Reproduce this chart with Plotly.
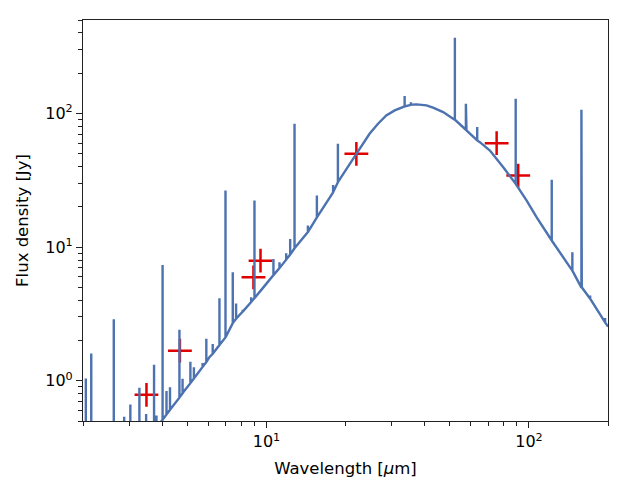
import numpy as np
import plotly.graph_objects as go

# continuum (model curve): wavelength [um], flux [Jy]
cont_wl = [2.0, 3.96, 4.86, 6.06, 7.44, 8.61, 10.0, 12.79, 15.56, 17.94, 18.71,
           22.0, 24.7, 26.6, 28.6, 30.8, 33.6, 37.3, 40.7, 43.1, 47.1, 51.4,
           57.8, 65.0, 71.0, 79.8, 89.0, 98.0, 107.0, 122.1, 143.4, 158.9, 200.0]
cont_flux = [0.08, 0.493, 0.84, 1.50, 2.70, 3.75, 5.33, 9.8, 16.7, 25.7, 30.6,
             49.9, 70.5, 83.7, 96.6, 105.3, 112.8, 116.8, 114.8, 110.3, 102.3, 91.3,
             74.6, 61.0, 52.8, 39.6, 29.7, 22.3, 16.7, 11.2, 7.06, 5.0, 2.54]

# emission lines: wavelength, flux at the foot, flux at the tip
line_wl = [2.05, 2.15, 2.62, 2.87, 3.03, 3.28, 3.48, 3.73, 3.81, 4.02, 4.16, 4.29,
           4.66, 4.79, 5.13, 5.29, 5.71, 5.90, 6.24, 6.62, 6.98, 7.44, 7.66, 8.12,
           8.74, 9.00, 10.63, 11.21, 11.89, 12.31, 12.79, 14.38, 15.56, 17.94, 18.71,
           33.6, 35.5, 52.2, 57.5, 63.5, 89.0, 122.1, 146.3, 158.4, 171.0, 195.0]
line_base = [0.3, 0.3, 0.3, 0.3, 0.3, 0.3, 0.3, 0.3, 0.3, 0.51, 0.56, 0.607,
             0.748, 0.806, 0.96, 1.04, 1.27, 1.38, 1.59, 1.85, 2.11, 2.70, 2.91, 3.29,
             3.88, 4.15, 6.17, 6.96, 8.06, 8.79, 9.8, 12.96, 16.7, 25.7, 30.6,
             112.8, 116.0, 89.7, 75.5, 62.8, 29.7, 11.2, 6.67, 4.97, 4.11, 2.73]
line_peak = [1.04, 1.60, 2.88, 0.537, 0.665, 0.886, 0.563, 1.32, 0.55, 7.36, 0.84, 0.894,
             2.41, 1.035, 1.39, 1.26, 1.36, 2.06, 1.88, 4.15, 26.5, 6.48, 3.78, 3.40,
             4.21, 22.3, 8.16, 7.69, 8.99, 11.5, 83.7, 14.5, 24.3, 29.2, 59.3,
             134.8, 121.0, 369.0, 118.2, 79.0, 128.9, 31.9, 9.14, 106.6, 4.35, 2.95]

# photometry points
phot_wl = [3.49, 4.68, 8.92, 9.49, 22.0, 75.3, 91.0]
phot_flux = [0.785, 1.68, 5.94, 7.92, 49.9, 59.9, 34.3]

# merge continuum and lines into one spectrum
segs = [[(w, f)] for w, f in zip(cont_wl, cont_flux)]
segs += [[(w, b), (w, p), (w, b)] for w, b, p in zip(line_wl, line_base, line_peak)]
segs.sort(key=lambda s: s[0][0])
spec = [pt for s in segs for pt in s]
spec_wl = [p[0] for p in spec]
spec_flux = [p[1] for p in spec]

fig = go.Figure()

fig.add_trace(go.Scatter(
    x=phot_wl, y=phot_flux, mode='markers',
    marker=dict(symbol='cross-thin', size=17, color='#e00000',
                line=dict(color='#e00000', width=2.5)),
    showlegend=False
))

fig.add_trace(go.Scatter(
    x=spec_wl, y=spec_flux, mode='lines',
    line=dict(color='#4c72b0', width=2.4),
    showlegend=False
))

font = dict(family='DejaVu Sans', size=16, color='black')
ax_common = dict(
    type='log', showgrid=False, zeroline=False, automargin=False,
    showline=True, mirror=True, linecolor='#222222', linewidth=1.2,
    ticks='outside', ticklen=6, tickwidth=1.1, tickcolor='#222222',
    tickfont=font,
)

x_minor = [m * d for d in (1, 10, 100) for m in range(2, 10) if m * d <= 200]
y_minor = [m * d for d in (0.1, 1, 10, 100) for m in range(2, 10) if 0.5 <= m * d <= 500]

fig.update_xaxes(
    **ax_common,
    range=[np.log10(2), np.log10(200)],
    tickvals=[10, 100], ticktext=['10<sup>1</sup>', '10<sup>2</sup>'],
    minor=dict(tickvals=x_minor, ticks='outside', ticklen=3.5, tickcolor='#222222', showgrid=False),
    title=dict(text='Wavelength [<i>μ</i>m]', font=dict(family='DejaVu Sans', size=16.5, color='black'),
               standoff=12),
)
fig.update_yaxes(
    **ax_common,
    range=[np.log10(0.5), np.log10(500)],
    tickvals=[1, 10, 100], ticktext=['10<sup>0</sup>', '10<sup>1</sup>', '10<sup>2</sup>'],
    minor=dict(tickvals=y_minor, ticks='outside', ticklen=3.5, tickcolor='#222222', showgrid=False),
    title=dict(text='Flux density [Jy]', font=dict(family='DejaVu Sans', size=16.5, color='black'),
               standoff=12),
)

# the page body adds an 8 px offset, so margins are shifted to compensate
fig.update_layout(
    width=628, height=495,
    margin=dict(l=75, r=28, t=12, b=82),
    paper_bgcolor='white', plot_bgcolor='white',
)

fig.write_html("out.html")
